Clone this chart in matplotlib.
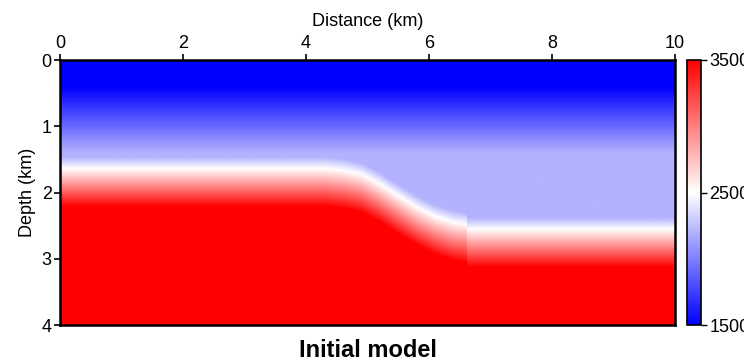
import numpy as np
import matplotlib
matplotlib.use("Agg")
import matplotlib.pyplot as plt
from matplotlib.colors import Normalize

plt.rcParams["font.family"] = ["Liberation Sans", "DejaVu Sans"]

# Model extent (km)
x_range = [0.0, 10.0]
z_range = [0.0, 4.0]

# Upper layer: velocity (m/s) versus depth (km)
upper_depth = [0.0, 0.40, 1.40]
upper_vel = [1500, 1500, 2200]

# Top of the transition into the fast layer, left block (slope) and right block
iface_x_left = [0.0, 4.3, 4.6, 4.9, 5.2, 5.5, 5.8, 6.1, 6.4, 6.62]
iface_z_left = [1.46, 1.46, 1.49, 1.55, 1.70, 1.88, 2.05, 2.19, 2.28, 2.31]
iface_x_right = [6.62, 10.0]
iface_z_right = [2.38, 2.38]
block_edge_x = 6.62

lower_vel = 3500
transition_km = 0.75

vmin, vmax = 1500, 3500
x_ticks = [0, 2, 4, 6, 8, 10]
z_ticks = [0, 1, 2, 3, 4]
cbar_ticks = [1500, 2500, 3500]

# Build the velocity grid
nx, nz = 501, 201
xs = np.linspace(x_range[0], x_range[1], nx)
zs = np.linspace(z_range[0], z_range[1], nz)
X, Z = np.meshgrid(xs, zs)

z_top = np.where(X < block_edge_x,
                 np.interp(X, iface_x_left, iface_z_left),
                 np.interp(X, iface_x_right, iface_z_right))
v_up = np.interp(Z, upper_depth, upper_vel)
t = np.clip((Z - z_top) / transition_km, 0, 1)
vel = v_up + (lower_vel - v_up) * t

fig = plt.figure(figsize=(7.44, 3.64), dpi=100)
ax = fig.add_axes([60 / 744, 39 / 364, 615 / 744, 265 / 364])
ax.imshow(vel, cmap="bwr", vmin=vmin, vmax=vmax, aspect="auto",
          extent=[x_range[0], x_range[1], z_range[1], z_range[0]],
          interpolation="bilinear")
ax.set_xlim(x_range)
ax.set_ylim(z_range[1], z_range[0])

ax.xaxis.tick_top()
ax.xaxis.set_label_position("top")
ax.set_xticks(x_ticks)
ax.set_yticks(z_ticks)
ax.tick_params(axis="both", direction="out", length=4, width=1.2,
               labelsize=13, pad=2)
ax.set_xlabel("Distance (km)", fontsize=13, labelpad=6)
ax.set_ylabel("Depth (km)", fontsize=13, labelpad=4)
for sp in ax.spines.values():
    sp.set_linewidth(1.8)

fig.text(ax.get_position().x0 + ax.get_position().width / 2, 0.005,
         "Initial model", ha="center", va="bottom",
         fontsize=17, fontweight="bold")

# Colour scale
cax = fig.add_axes([687 / 744, 39 / 364, 14 / 744, 265 / 364])
sm = plt.cm.ScalarMappable(norm=Normalize(vmin, vmax), cmap="bwr")
cb = fig.colorbar(sm, cax=cax, ticks=cbar_ticks)
cb.outline.set_linewidth(1.2)
cax.tick_params(direction="out", length=4, width=1.0, labelsize=13, pad=2)

fig.savefig("out.png", dpi=100)
